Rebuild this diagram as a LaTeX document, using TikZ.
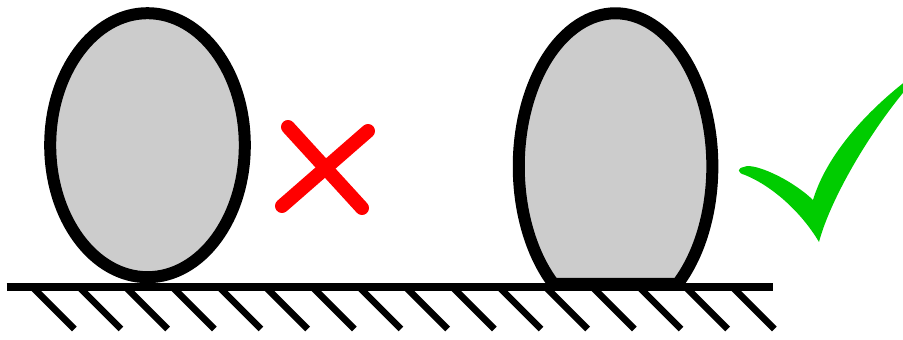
\documentclass[tikz,border=0pt]{standalone}
\usepackage[dvipsnames]{xcolor}
\usepackage{tikz}
\definecolor{eggfill}{RGB}{204,204,204}
\definecolor{crossred}{RGB}{255,0,0}
\definecolor{checkgreen}{RGB}{0,204,0}
\tikzset{
  egg/.style={
    draw=black,
    fill=eggfill,
    line width=0.36cm
  },
  ground/.style={draw=black, line width=0.25cm},
  hatch/.style={draw=black, line width=0.2cm},
  cross/.style={draw=crossred, line width=0.42cm, line cap=round},
  checkmark/.style={fill=checkgreen, draw=none}
}

\begin{document}
\begin{tikzpicture}[x=0.03cm, y=0.03cm]
\useasboundingbox (0,0) rectangle (903,340);
\clip (0,0) rectangle (903,340);

% bodies: rigid (point contact) and soft (flattened contact)
\coordinate (rigid) at (147.5,194.8);
\coordinate (soft) at (677.5,56);
\draw[egg] (rigid) ellipse [x radius=97.3, y radius=132];
\draw[egg] (soft) arc[start angle=-50.2, end angle=230.2, x radius=96.8, y radius=153.1] -- cycle;

% ground with hatching
\coordinate (gl) at (6.7,52.8);
\coordinate (gr) at (772.7,52.8);
\draw[ground] (gl) -- (gr);
\foreach \i in {0,...,15}
  \draw[hatch] ({33.3+46.67*\i},52) -- ++(41,-41);

% wrong mark
\coordinate (xa) at (288,213);
\coordinate (xb) at (362,132);
\coordinate (xc) at (368,209);
\coordinate (xd) at (282,134);
\draw[cross] (xa) -- (xb);
\draw[cross] (xc) -- (xd);

% right mark
\fill[checkmark] (744,173) .. controls (752,178) and (790,162) .. (813,140)
  .. controls (825,180) and (860,225) .. (915,266)
  -- (913,259)
  .. controls (870,210) and (830,140) .. (819,98)
  .. controls (800,130) and (770,155) .. (745,165)
  .. controls (737,167) and (737,172) .. (744,173) -- cycle;
\end{tikzpicture}
\end{document}
